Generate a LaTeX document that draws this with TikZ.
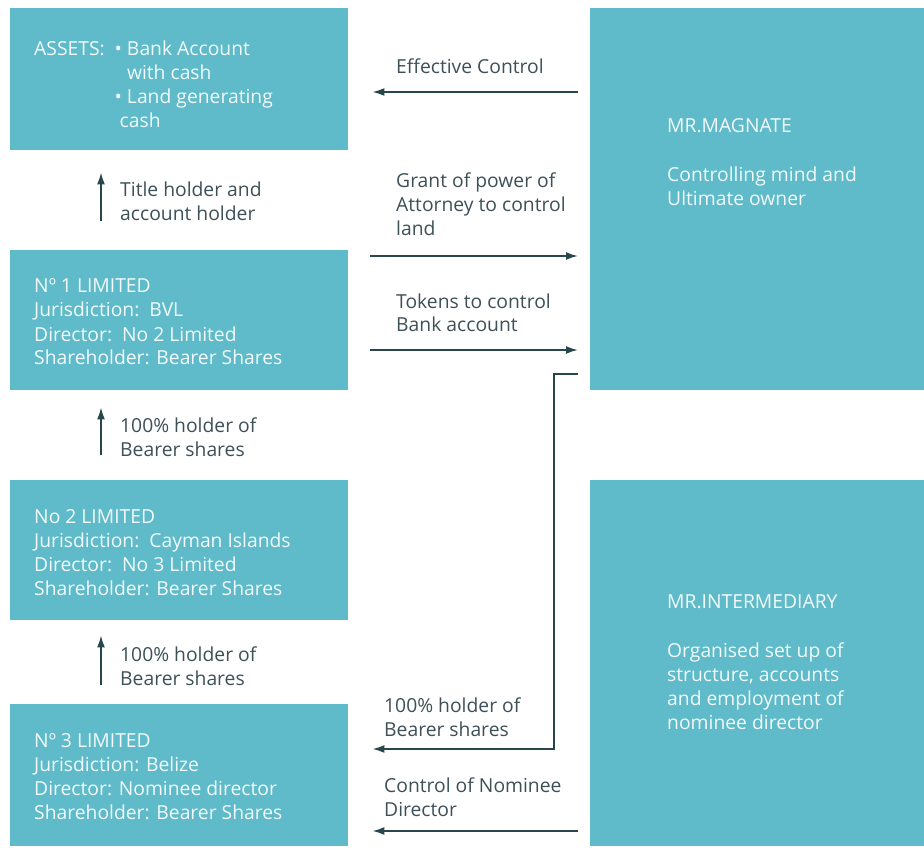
\documentclass[tikz,border=0pt]{standalone}
\usepackage{fontspec}
\setmainfont{Open Sans}
\usetikzlibrary{arrows.meta}

\definecolor{tealbox}{HTML}{5FBAC9}
\definecolor{boxink}{HTML}{F2FAFB}
\definecolor{noteink}{HTML}{3D5057}
\definecolor{linkink}{HTML}{28474C}

\begin{document}
\begin{tikzpicture}[x=1pt, y=-1pt,
    entity/.style={
        rectangle,
        fill=tealbox,
        anchor=north west,
        inner sep=0pt
    },
    entitytext/.style={
        text=boxink,
        font=\fontsize{19.3}{24}\selectfont,
        align=left,
        anchor=base west,
        inner sep=0pt
    },
    note/.style={
        text=noteink,
        font=\fontsize{19.3}{24}\selectfont,
        align=left,
        anchor=base west,
        inner sep=0pt
    },
    link/.style={
        draw=linkink,
        line width=1.8pt,
        -{Latex[length=12pt,width=8pt]}
    }
]
\useasboundingbox (0,0) rectangle (924,850);

% Company boxes
\node[entity, minimum width=338pt, minimum height=142pt] (assets) at (10,8) {};
\node[entity, minimum width=338pt, minimum height=140pt] (no1) at (10,250) {};
\node[entity, minimum width=338pt, minimum height=140pt] (no2) at (10,480) {};
\node[entity, minimum width=338pt, minimum height=142pt] (no3) at (10,704) {};

% People
\node[entity, minimum width=334pt, minimum height=382pt] (magnate) at (590,8) {};
\node[entity, minimum width=334pt, minimum height=366pt] (intermediary) at (590,480) {};

% Box texts (placed at the baseline of their last line)
\node[entitytext] (assetstext) at (34,56) {\begin{tabular}[t]{@{}l@{\hspace{10pt}}l@{}}
    ASSETS: & • Bank Account\\
            & \phantom{•\ }with cash\\
            & • Land generating\\
            & \hspace{5pt}cash
    \end{tabular}};
\node[entitytext] (no1text) at (34,365) {Nº 1 LIMITED\\Jurisdiction:\ \ BVL\\Director:\ \ No 2 Limited\\Shareholder: Bearer Shares};
\node[entitytext] (no2text) at (34,595) {No 2 LIMITED\\Jurisdiction:\ \ Cayman Islands\\Director:\ \ No 3 Limited\\Shareholder: Bearer Shares};
\node[entitytext] (no3text) at (34,819) {Nº 3 LIMITED\\Jurisdiction: Belize\\Director: Nominee director\\Shareholder: Bearer Shares};
\node[entitytext] (magnatetext) at (667,206) {MR.MAGNATE\\[25pt]Controlling mind and\\Ultimate owner};
\node[entitytext] (intermediarytext) at (667,729) {MR.INTERMEDIARY\\[25pt]Organised set up of\\structure, accounts\\and employment of\\nominee director};

% Rows and column of the arrows
\coordinate (rowcontrol) at (0,92);
\coordinate (rowgrant) at (0,256);
\coordinate (rowtokens) at (0,350);
\coordinate (bendtop) at (554,374);
\coordinate (bendlow) at (554,749);
\coordinate (rownominee) at (0,831);
\coordinate (upcol) at (101,0);

% Arrows
\draw[link, shorten <=12pt, shorten >=24pt] (magnate.west |- rowcontrol) -- (assets.east |- rowcontrol);
\draw[link, shorten <=22pt, shorten >=12pt] (no1.east |- rowgrant) -- (magnate.west |- rowgrant);
\draw[link, shorten <=22pt, shorten >=12pt] (no1.east |- rowtokens) -- (magnate.west |- rowtokens);
\draw[link, shorten <=12pt, shorten >=24pt] (magnate.west |- bendtop) -- (bendtop) |- (no3.east |- bendlow);
\draw[link, shorten <=12pt, shorten >=24pt] (intermediary.west |- rownominee) -- (no3.east |- rownominee);
\draw[link, shorten <=29pt, shorten >=22pt] (no1.north -| upcol) -- (assets.south -| upcol);
\draw[link, shorten <=25pt, shorten >=17pt] (no2.north -| upcol) -- (no1.south -| upcol);
\draw[link, shorten <=19pt, shorten >=15pt] (no3.north -| upcol) -- (no2.south -| upcol);

% Arrow texts (placed at the baseline of their last line)
\node[note] (controlnote) at (396,74) {Effective Control};
\node[note] (grantnote) at (396,236) {Grant of power of\\Attorney to control\\land};
\node[note] (tokensnote) at (396,332) {Tokens to control\\Bank account};
\node[note] (titlenote) at (120,221) {Title holder and\\account holder};
\node[note] (sharesnoteA) at (120,456) {100\% holder of\\Bearer shares};
\node[note] (sharesnoteB) at (120,685) {100\% holder of\\Bearer shares};
\node[note] (sharesnoteC) at (384,736) {100\% holder of\\Bearer shares};
\node[note] (nomineenote) at (384,816) {Control of Nominee\\Director};

\end{tikzpicture}
\end{document}
